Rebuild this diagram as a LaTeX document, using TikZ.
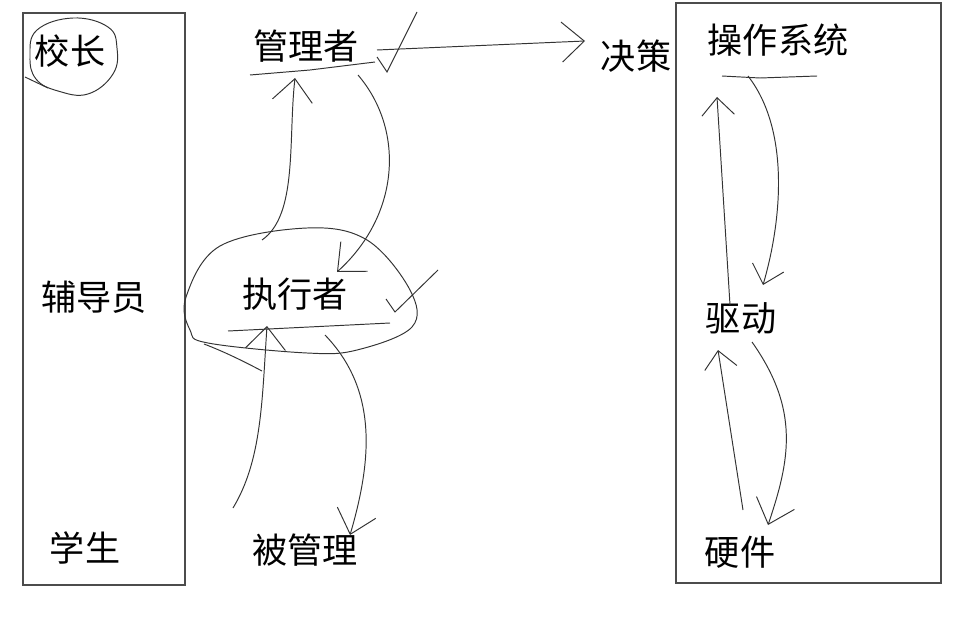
\documentclass[tikz,border=0pt]{standalone}
\usepackage{fontspec}
\newfontfamily\cjk{Noto Sans CJK SC}
\usetikzlibrary{arrows.meta}

\begin{document}
\begin{tikzpicture}[
    x=0.02cm, y=-0.02cm,
    every node/.style={font=\cjk\fontsize{20pt}{24pt}\selectfont, inner sep=0pt},
    frame/.style={draw=black!70, line width=0.7pt},
    pen/.style={draw=black!80, line width=0.55pt},
    arrow/.style={pen, -{Straight Barb[length=0.45cm, width=0.8cm]}},
    smallarrow/.style={pen, -{Straight Barb[length=0.35cm, width=0.65cm]}}
]
\useasboundingbox (0,0) rectangle (960,635);

% ============ SCHOOL ============
\draw[frame] (23,13) rectangle (185,585);
\node (xiaozhang) at (70,51) {校长};
\node (fudaoyuan) at (94,297) {辅导员};
\node (xuesheng) at (85,548) {学生};

% circle round the head
\draw[pen] plot[smooth cycle, tension=0.7] coordinates
    {(37,30) (73,18) (108,27) (117,48) (113,74) (88,94) (58,91) (36,79) (30,56)};
\draw[pen] (25,77) -- (48,88);

% ============ ROLES ============
\node (guanli) at (306,46) {管理者};
\node (juece) at (636,56) {决策};
\node (zhixing) at (295,294) {执行者};
\node (beiguanli) at (305,550) {被管理};

\coordinate (guanli-in) at (295,78);
\coordinate (guanli-out) at (377,50);
\coordinate (juece-in) at (585,41);
\coordinate (zhixing-in) at (337,272);
\coordinate (zhixing-up) at (267,326);
\coordinate (beiguanli-in) at (350,535);

% underlines and ticks
\draw[pen] (250,75) -- (310,70) -- (375,62);
\draw[pen] (417,12) -- (387,72) -- (377,57);
\draw[pen] (228,331) -- (390,323);
\draw[pen] (386,299) -- (395,312) -- (438,270);

% ring round the middle
\draw[pen] plot[smooth cycle, tension=0.6] coordinates
    {(186,297) (220,246) (307,228) (367,240) (410,290) (412,327) (357,350) (307,353) (208,343) (190,330)};
\draw[pen] (204,344) .. controls (225,352) and (245,362) .. (262,371);

% up and down
\draw[arrow] (guanli-out) -- (juece-in);
\draw[arrow] (262,240) .. controls (298,215) and (288,140) .. (guanli-in);
\draw[arrow] (358,75) .. controls (405,130) and (400,215) .. (zhixing-in);
\draw[arrow] (233,508) .. controls (262,460) and (262,400) .. (zhixing-up);
\draw[arrow] (325,335) .. controls (378,390) and (372,460) .. (beiguanli-in);

% ============ COMPUTER ============
\draw[frame] (676,3) rectangle (941,583);
\node (caozuo) at (778,40) {操作系统};
\node (qudong) at (741,318) {驱动};
\node (yingjian) at (740,552) {硬件};

\coordinate (caozuo-in) at (717,97);
\coordinate (qudong-in) at (763,285);
\coordinate (qudong-up) at (718,350);
\coordinate (yingjian-in) at (768,525);

\draw[pen] (722,76) -- (760,78) -- (817,76);

\draw[smallarrow] (730,305) -- (caozuo-in);
\draw[smallarrow] (748,76) .. controls (790,130) and (782,220) .. (qudong-in);
\draw[smallarrow] (743,510) -- (qudong-up);
\draw[arrow] (752,342) .. controls (800,410) and (790,460) .. (yingjian-in);

\end{tikzpicture}
\end{document}
